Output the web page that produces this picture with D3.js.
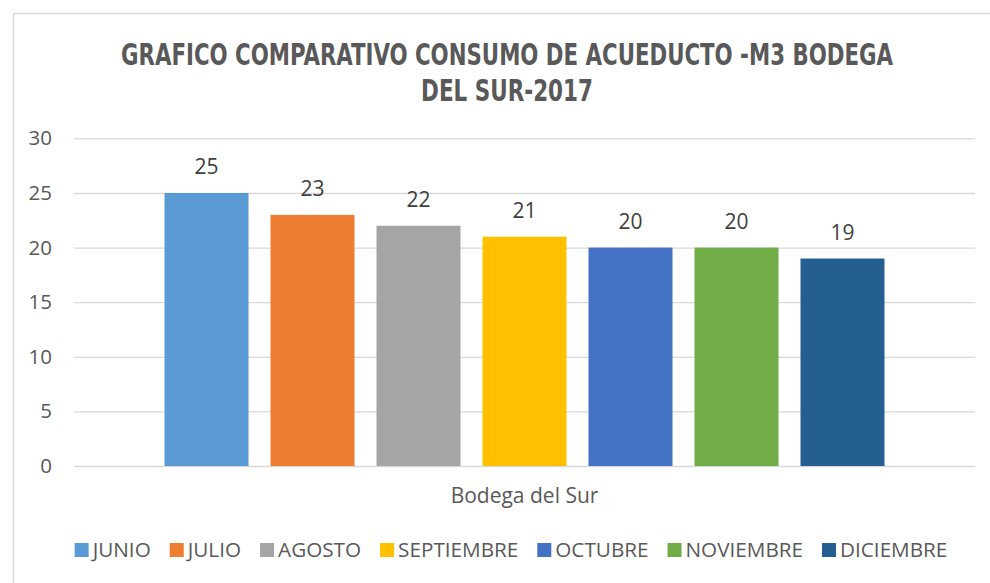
<!DOCTYPE html>
<html>
<head>
<meta charset="utf-8">
<script src="https://cdn.jsdelivr.net/npm/d3@7"></script>
<style>
  body { margin: 0; background: #fff; }
  text { font-family: "Open Sans", "DejaVu Sans", sans-serif; }
</style>
</head>
<body>
<div class="chart"></div>
<script>
// chart data
const category = "Bodega del Sur";
const months = ["JUNIO", "JULIO", "AGOSTO", "SEPTIEMBRE", "OCTUBRE", "NOVIEMBRE", "DICIEMBRE"];
const values = [25, 23, 22, 21, 20, 20, 19];
const colors = ["#5B9BD5", "#ED7D31", "#A5A5A5", "#FFC000", "#4472C4", "#70AD47", "#255E91"];
const yTicks = [0, 5, 10, 15, 20, 25, 30];
const titleLines = ["GRAFICO COMPARATIVO CONSUMO DE ACUEDUCTO -M3 BODEGA", "DEL SUR-2017"];

const width = 990, height = 583;
const plot = {left: 74, right: 975, top: 138.4, bottom: 466};

const svg = d3.select('.chart')
              .append('svg')
              .attr('width', width)
              .attr('height', height);

// chart area border (only top and left show in the frame)
svg.append("path")
   .attr("d", "M13.5," + height + "V13.5H" + width)
   .attr("fill", "none")
   .attr("stroke", "#d9d9d9")
   .attr("stroke-width", 1.5);

// title, squeezed horizontally to get the condensed look
const titleWidths = [772, 172];
svg.append("g")
   .selectAll("text")
   .data(titleLines)
   .enter()
   .append("text")
   .attr("text-anchor", "middle")
   .attr("fill", "#595959")
   .style("font-family", "'DejaVu Sans Condensed', 'DejaVu Sans', sans-serif")
   .style("font-weight", "bold")
   .style("font-size", "31px")
   .text(d => d)
   .each(function(d, i) {
     const k = titleWidths[i] / this.getComputedTextLength();
     d3.select(this).attr("transform",
       "translate(507," + (65 + i * 35.5) + ") scale(" + k + ",1)");
   });

// scales
const y = d3.scaleLinear()
            .domain([0, 30])
            .range([plot.bottom, plot.top]);

const x0 = d3.scaleBand()
             .domain([category])
             .range([plot.left, plot.right])
             .paddingOuter(0.1257);

const x1 = d3.scaleBand()
             .domain(months)
             .range([0, x0.bandwidth()])
             .paddingInner(0.2075);

// gridlines + tick labels
const yAxis = svg.append("g")
   .attr("transform", "translate(" + plot.left + ",0)")
   .call(d3.axisLeft(y)
           .tickValues(yTicks)
           .tickSizeInner(-(plot.right - plot.left))
           .tickSizeOuter(0)
           .tickPadding(22));
yAxis.select(".domain").remove();
yAxis.selectAll(".tick line")
     .attr("stroke", "#d9d9d9")
     .attr("stroke-width", 1.3);
yAxis.selectAll(".tick text")
     .attr("fill", "#595959")
     .style("font-family", "'Open Sans', sans-serif")
     .style("font-size", "20.5px");

// bars
const grp = svg.append("g")
   .attr("transform", "translate(" + x0(category) + ",0)");

grp.selectAll("rect")
   .data(values)
   .enter()
   .append("rect")
   .attr("x", (d, i) => x1(months[i]))
   .attr("y", d => y(d))
   .attr("width", x1.bandwidth())
   .attr("height", d => y(0) - y(d))
   .attr("fill", (d, i) => colors[i]);

// value labels
grp.selectAll("text")
   .data(values)
   .enter()
   .append("text")
   .attr("x", (d, i) => x1(months[i]) + x1.bandwidth() / 2)
   .attr("y", d => y(d) - 19)
   .attr("text-anchor", "middle")
   .attr("fill", "#404040")
   .style("font-size", "21px")
   .text(d => d);

// axis title
svg.append("text")
   .attr("x", x0(category) + x0.bandwidth() / 2)
   .attr("y", 503)
   .attr("text-anchor", "middle")
   .attr("fill", "#595959")
   .style("font-size", "21px")
   .text(category);

// legend
const legend = svg.append("g");
const items = legend.selectAll("g")
   .data(months)
   .enter()
   .append("g");
items.append("rect")
     .attr("width", 14)
     .attr("height", 14)
     .attr("y", -14)
     .attr("fill", (d, i) => colors[i]);
items.append("text")
     .attr("x", 18)
     .attr("y", 0)
     .attr("fill", "#595959")
     .style("font-size", "20.7px")
     .text(d => d);

let off = 0;
items.each(function() {
  d3.select(this).attr("transform", "translate(" + off + ",0)");
  off += 18 + this.querySelector("text").getComputedTextLength() + 19;
});
off -= 19;
legend.attr("transform", "translate(" + (511 - off / 2) + ",557)");
</script>
</body>
</html>
